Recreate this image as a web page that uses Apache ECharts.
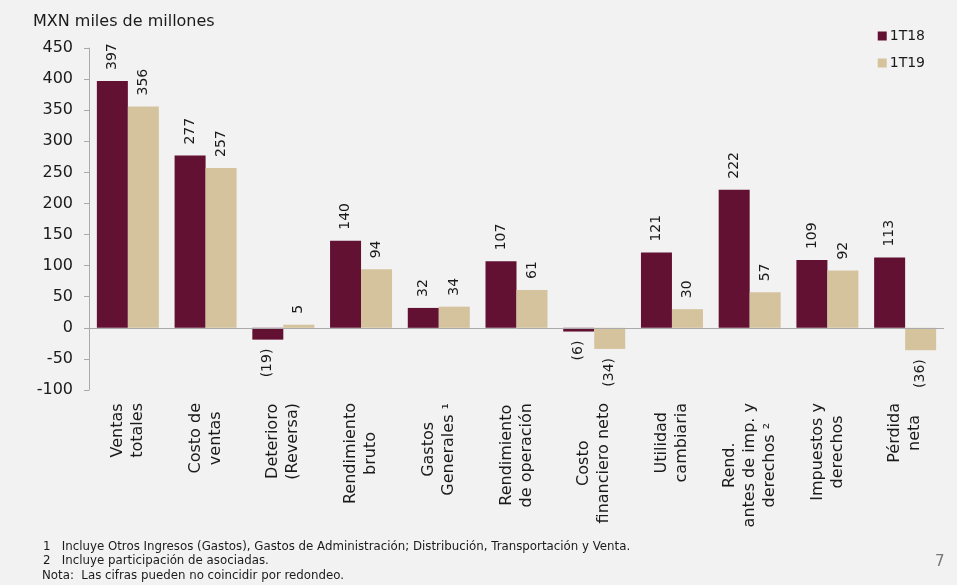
<!DOCTYPE html>
<html>
<head>
<meta charset="utf-8">
<script src="https://cdn.jsdelivr.net/npm/echarts@6/dist/echarts.min.js"></script>
<style>
html,body{margin:0;padding:0;background:#f2f2f2;}
#c{width:957px;height:585px;}
</style>
</head>
<body>
<div id="c"></div>
<script>
const categories = [
  "Ventas\ntotales",
  "Costo de\nventas",
  "Deterioro\n(Reversa)",
  "Rendimiento\nbruto",
  "Gastos\nGenerales ¹",
  "Rendimiento\nde operación",
  "Costo\nfinanciero neto",
  "Utilidad\ncambiaria",
  "Rend.\nantes de imp. y\nderechos ²",
  "Impuestos y\nderechos",
  "Pérdida\nneta"
];
const series1T18 = [397, 277, -19, 140, 32, 107, -6, 121, 222, 109, 113];
const series1T19 = [356, 257, 5, 94, 34, 61, -34, 30, 57, 92, -36];
const yTicks = { min: -100, max: 450, interval: 50 };
const footnotes = [
  "1   Incluye Otros Ingresos (Gastos), Gastos de Administración; Distribución, Transportación y Venta.",
  "2   Incluye participación de asociadas.",
  "Nota:  Las cifras pueden no coincidir por redondeo."
];

const FONT = "DejaVu Sans";
function fmt(v){ return v < 0 ? "(" + Math.abs(v) + ")" : String(v); }
function makeData(arr){
  return arr.map(v => ({
    value: v,
    label: v < 0
      ? { position: 'bottom', align: 'right', distance: 9 }
      : { position: 'top', align: 'left', distance: 11 }
  }));
}
const labelBase = {
  show: true, rotate: 90, verticalAlign: 'middle',
  fontFamily: FONT, fontSize: 14, color: '#1a1a1a',
  formatter: p => fmt(p.value)
};

const chart = echarts.init(document.getElementById('c'));
chart.setOption({
  backgroundColor: '#f2f2f2',
  animation: false,
  textStyle: { fontFamily: FONT },
  title: {
    text: 'MXN miles de millones', left: 28, top: 9,
    textStyle: { fontFamily: FONT, fontSize: 16, fontWeight: 'normal', color: '#1a1a1a' }
  },
  legend: {
    orient: 'vertical', right: 27, top: 24, itemWidth: 9, itemHeight: 9,
    itemGap: 13, icon: 'rect',
    textStyle: { fontFamily: FONT, fontSize: 14, color: '#1a1a1a', padding: [0, 0, 0, -2] },
    data: ['1T18', '1T19']
  },
  grid: { left: 89, right: 13, top: 48, bottom: 195, containLabel: false },
  xAxis: {
    type: 'category', data: categories,
    axisLine: { show: false, onZero: false }, axisTick: { show: false },
    axisLabel: {
      rotate: 90, interval: 0, margin: 13, fontFamily: FONT, fontSize: 16,
      color: '#1a1a1a', lineHeight: 20,
      formatter: v => v.split('\n').map(l => '{c|' + l + '}').join('\n'),
      rich: { c: { align: 'center', fontFamily: FONT, fontSize: 16, lineHeight: 20, color: '#1a1a1a' } }
    }
  },
  yAxis: {
    type: 'value', min: yTicks.min, max: yTicks.max, interval: yTicks.interval,
    axisLine: { show: true, lineStyle: { color: '#aaa' } },
    axisTick: { show: true, length: 5, lineStyle: { color: '#aaa' } },
    splitLine: { show: false },
    axisLabel: { fontFamily: FONT, fontSize: 16, color: '#1a1a1a', margin: 16 }
  },
  series: [
    {
      name: '1T18', type: 'bar', data: makeData(series1T18),
      itemStyle: { color: '#621132' }, barWidth: 31, barGap: '0%',
      label: labelBase,
      markLine: {
        silent: true, symbol: 'none', label: { show: false },
        lineStyle: { color: '#aaa', width: 1, type: 'solid' },
        data: [{ yAxis: 0 }]
      }
    },
    {
      name: '1T19', type: 'bar', data: makeData(series1T19),
      itemStyle: { color: '#d5c39e' }, barWidth: 31, barGap: '0%',
      label: labelBase
    }
  ],
  graphic: [
    { type: 'text', left: 43, top: 541, style: { text: footnotes[0], font: '11.8px "DejaVu Sans"', fill: '#1a1a1a' } },
    { type: 'text', left: 43, top: 555, style: { text: footnotes[1], font: '11.8px "DejaVu Sans"', fill: '#1a1a1a' } },
    { type: 'text', left: 42, top: 570, style: { text: footnotes[2], font: '11.8px "DejaVu Sans"', fill: '#1a1a1a' } },
    { type: 'text', left: 935, top: 555, style: { text: '7', font: '15px "DejaVu Sans"', fill: '#777' } }
  ]
});
</script>
</body>
</html>
